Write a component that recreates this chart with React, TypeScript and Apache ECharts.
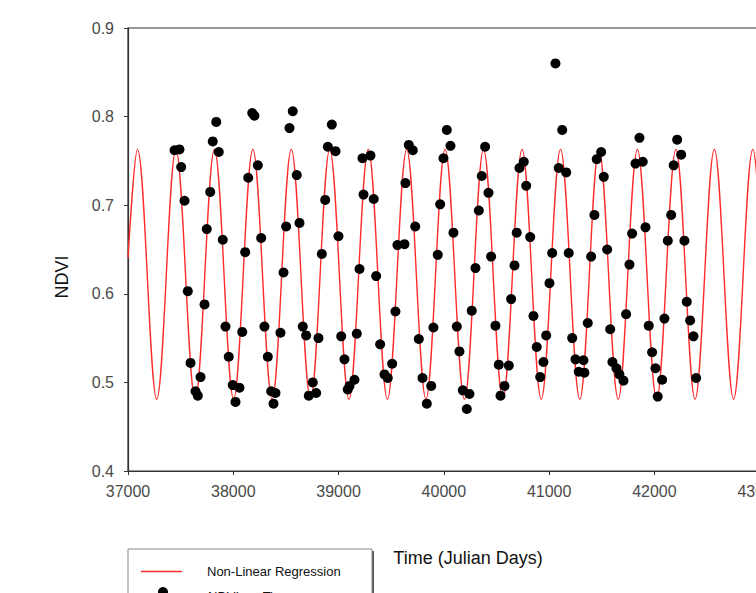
import React, { useEffect, useRef } from "react";
import * as echarts from "echarts";

// Regression curve: start point followed by alternating peaks and troughs (day, NDVI)
const regressionCurve: [number, number][] = [
  [37000, 0.64], [37090, 0.763], [37273, 0.481], [37455, 0.763], [37638, 0.481],
  [37821, 0.763], [38003, 0.481], [38186, 0.763], [38369, 0.481], [38551, 0.763],
  [38734, 0.481], [38916, 0.763], [39099, 0.481], [39282, 0.763], [39464, 0.481],
  [39647, 0.763], [39830, 0.481], [40012, 0.763], [40195, 0.481], [40377, 0.763],
  [40560, 0.481], [40743, 0.763], [40925, 0.481], [41108, 0.763], [41291, 0.481],
  [41473, 0.763], [41656, 0.481], [41838, 0.763], [42021, 0.481], [42204, 0.763],
  [42386, 0.481], [42569, 0.763], [42752, 0.481], [42934, 0.763], [43117, 0.481],
  [43299, 0.763], [43482, 0.481],
];

// Observed NDVI vs. time (Julian day, NDVI)
const ndviObservations: [number, number][] = [
  [37442, 0.762], [37489, 0.763], [37505, 0.743], [37537, 0.705], [37568, 0.603], [37594, 0.522],
  [37641, 0.49], [37663, 0.485], [37689, 0.506], [37727, 0.588], [37748, 0.673], [37781, 0.715],
  [37805, 0.772], [37838, 0.794], [37862, 0.76], [37900, 0.661], [37926, 0.563], [37957, 0.529],
  [37995, 0.497], [38021, 0.478], [38059, 0.494], [38085, 0.557], [38113, 0.647], [38142, 0.731],
  [38180, 0.804], [38201, 0.801], [38233, 0.745], [38265, 0.663], [38296, 0.563], [38328, 0.529],
  [38360, 0.49], [38382, 0.476], [38401, 0.488], [38448, 0.556], [38477, 0.624], [38502, 0.676],
  [38534, 0.787], [38565, 0.806], [38603, 0.734], [38629, 0.68], [38660, 0.563], [38692, 0.553],
  [38717, 0.485], [38755, 0.5], [38787, 0.488], [38809, 0.55], [38841, 0.645], [38873, 0.706],
  [38898, 0.766], [38936, 0.791], [38971, 0.761], [38999, 0.665], [39025, 0.552], [39056, 0.526],
  [39087, 0.492], [39104, 0.496], [39151, 0.503], [39173, 0.555], [39199, 0.628], [39227, 0.753],
  [39237, 0.712], [39303, 0.756], [39334, 0.707], [39357, 0.62], [39395, 0.543], [39436, 0.509],
  [39467, 0.505], [39509, 0.521], [39540, 0.58], [39559, 0.655], [39626, 0.656], [39635, 0.725],
  [39667, 0.768], [39705, 0.762], [39728, 0.676], [39762, 0.549], [39797, 0.505], [39838, 0.476],
  [39880, 0.496], [39901, 0.562], [39942, 0.644], [39965, 0.701], [39996, 0.753], [40028, 0.785],
  [40063, 0.767], [40091, 0.669], [40123, 0.563], [40148, 0.535], [40180, 0.491], [40218, 0.47],
  [40243, 0.487], [40265, 0.581], [40300, 0.629], [40332, 0.694], [40360, 0.733], [40392, 0.766],
  [40424, 0.714], [40449, 0.642], [40490, 0.564], [40522, 0.52], [40538, 0.485], [40576, 0.496],
  [40617, 0.519], [40639, 0.594], [40671, 0.632], [40692, 0.669], [40718, 0.742], [40759, 0.749],
  [40782, 0.722], [40820, 0.664], [40851, 0.575], [40882, 0.54], [40915, 0.506], [40946, 0.523],
  [40972, 0.553], [41003, 0.612], [41029, 0.646], [41060, 0.86], [41091, 0.742], [41124, 0.785],
  [41162, 0.737], [41186, 0.646], [41219, 0.55], [41250, 0.526], [41281, 0.512], [41326, 0.525],
  [41335, 0.511], [41367, 0.567], [41399, 0.642], [41430, 0.689], [41452, 0.752], [41494, 0.76],
  [41519, 0.732], [41551, 0.65], [41580, 0.56], [41601, 0.523], [41639, 0.516], [41668, 0.509],
  [41706, 0.502], [41731, 0.577], [41763, 0.633], [41788, 0.668], [41820, 0.747], [41858, 0.776],
  [41889, 0.749], [41915, 0.675], [41946, 0.564], [41978, 0.534], [42010, 0.516], [42031, 0.484],
  [42073, 0.503], [42095, 0.572], [42127, 0.66], [42159, 0.689], [42183, 0.745], [42216, 0.774],
  [42254, 0.757], [42285, 0.66], [42307, 0.591], [42339, 0.57], [42371, 0.552], [42396, 0.505],
];

const xAxisRange = [37000, 44000];
const yAxisRange = [0.4, 0.9];
const seriesNames = ["Non-Linear Regression", "NDVI vs. Time"];
const axisTitles = { x: "Time (Julian Days)", y: "NDVI" };

const FONT = 'Arial, "Liberation Sans", sans-serif';

export default function App() {
  const ref = useRef<HTMLDivElement>(null);

  useEffect(() => {
    if (!ref.current) return;
    const chart = echarts.init(ref.current, undefined, { renderer: "svg" });
    chart.setOption({
      animation: false,
      backgroundColor: "#ffffff",
      grid: {
        left: 128,
        top: 28,
        width: 737,
        height: 443,
        containLabel: false,
        outerBoundsMode: "none",
        show: true,
        borderColor: "#333",
        borderWidth: 1.2,
      },
      xAxis: {
        type: "value",
        min: xAxisRange[0],
        max: xAxisRange[1],
        interval: 1000,
        splitLine: { show: false },
        axisLine: { show: true, onZero: false, lineStyle: { color: "#333", width: 1.2 } },
        axisTick: { show: true, length: 4, lineStyle: { color: "#333" } },
        axisLabel: {
          margin: 12,
          color: "#4a4a4a",
          fontSize: 16,
          fontFamily: FONT,
          showMaxLabel: false,
          formatter: (v: number) => String(v),
        },
      },
      yAxis: {
        type: "value",
        min: yAxisRange[0],
        max: yAxisRange[1],
        interval: 0.1,
        splitLine: { show: false },
        axisLine: { show: true, onZero: false, lineStyle: { color: "#333", width: 1.2 } },
        axisTick: { show: true, length: 4, lineStyle: { color: "#333" } },
        axisLabel: {
          margin: 14,
          color: "#4a4a4a",
          fontSize: 16,
          fontFamily: FONT,
          formatter: (v: number) => v.toFixed(1),
        },
      },
      series: [
        {
          name: seriesNames[0],
          type: "line",
          data: regressionCurve,
          smooth: 0.36,
          showSymbol: false,
          symbol: "none",
          lineStyle: { color: "#ff2a2a", width: 1.4 },
          z: 2,
        },
        {
          name: seriesNames[1],
          type: "scatter",
          data: ndviObservations,
          symbol: "circle",
          symbolSize: 10,
          itemStyle: { color: "#000000", opacity: 1 },
          z: 3,
        },
      ],
      graphic: [
        {
          type: "text",
          x: 62,
          y: 277,
          rotation: Math.PI / 2,
          style: {
            text: axisTitles.y,
            fill: "#111",
            fontSize: 18,
            fontFamily: FONT,
            align: "center",
            verticalAlign: "middle",
            textAlign: "center",
            textVerticalAlign: "middle",
          },
        },
        {
          type: "text",
          x: 468,
          y: 558,
          style: {
            text: axisTitles.x,
            fill: "#111",
            fontSize: 18,
            fontFamily: FONT,
            align: "center",
            verticalAlign: "middle",
            textAlign: "center",
            textVerticalAlign: "middle",
          },
        },
        {
          type: "rect",
          shape: { x: 130, y: 551, width: 244, height: 60 },
          style: { fill: "#555", stroke: "none" },
        },
        {
          type: "rect",
          shape: { x: 128, y: 549, width: 244, height: 60 },
          style: { fill: "#ffffff", stroke: "#888", lineWidth: 1 },
        },
        {
          type: "line",
          shape: { x1: 141, y1: 571.5, x2: 182, y2: 571.5 },
          style: { stroke: "#ff2a2a", lineWidth: 1.4 },
        },
        {
          type: "text",
          x: 207,
          y: 571,
          style: {
            text: seriesNames[0],
            fill: "#111",
            fontSize: 13,
            fontFamily: FONT,
            align: "left",
            verticalAlign: "middle",
            textAlign: "left",
            textVerticalAlign: "middle",
          },
        },
        {
          type: "circle",
          shape: { cx: 163, cy: 592, r: 5 },
          style: { fill: "#000" },
        },
        {
          type: "text",
          x: 208,
          y: 596,
          style: {
            text: seriesNames[1],
            fill: "#111",
            fontSize: 13,
            fontFamily: FONT,
            align: "left",
            verticalAlign: "middle",
            textAlign: "left",
            textVerticalAlign: "middle",
          },
        },
      ],
    });
    return () => chart.dispose();
  }, []);

  return (
    <div
      ref={ref}
      style={{ position: "fixed", left: 0, top: 0, width: 756, height: 593, background: "#fff" }}
    />
  );
}
